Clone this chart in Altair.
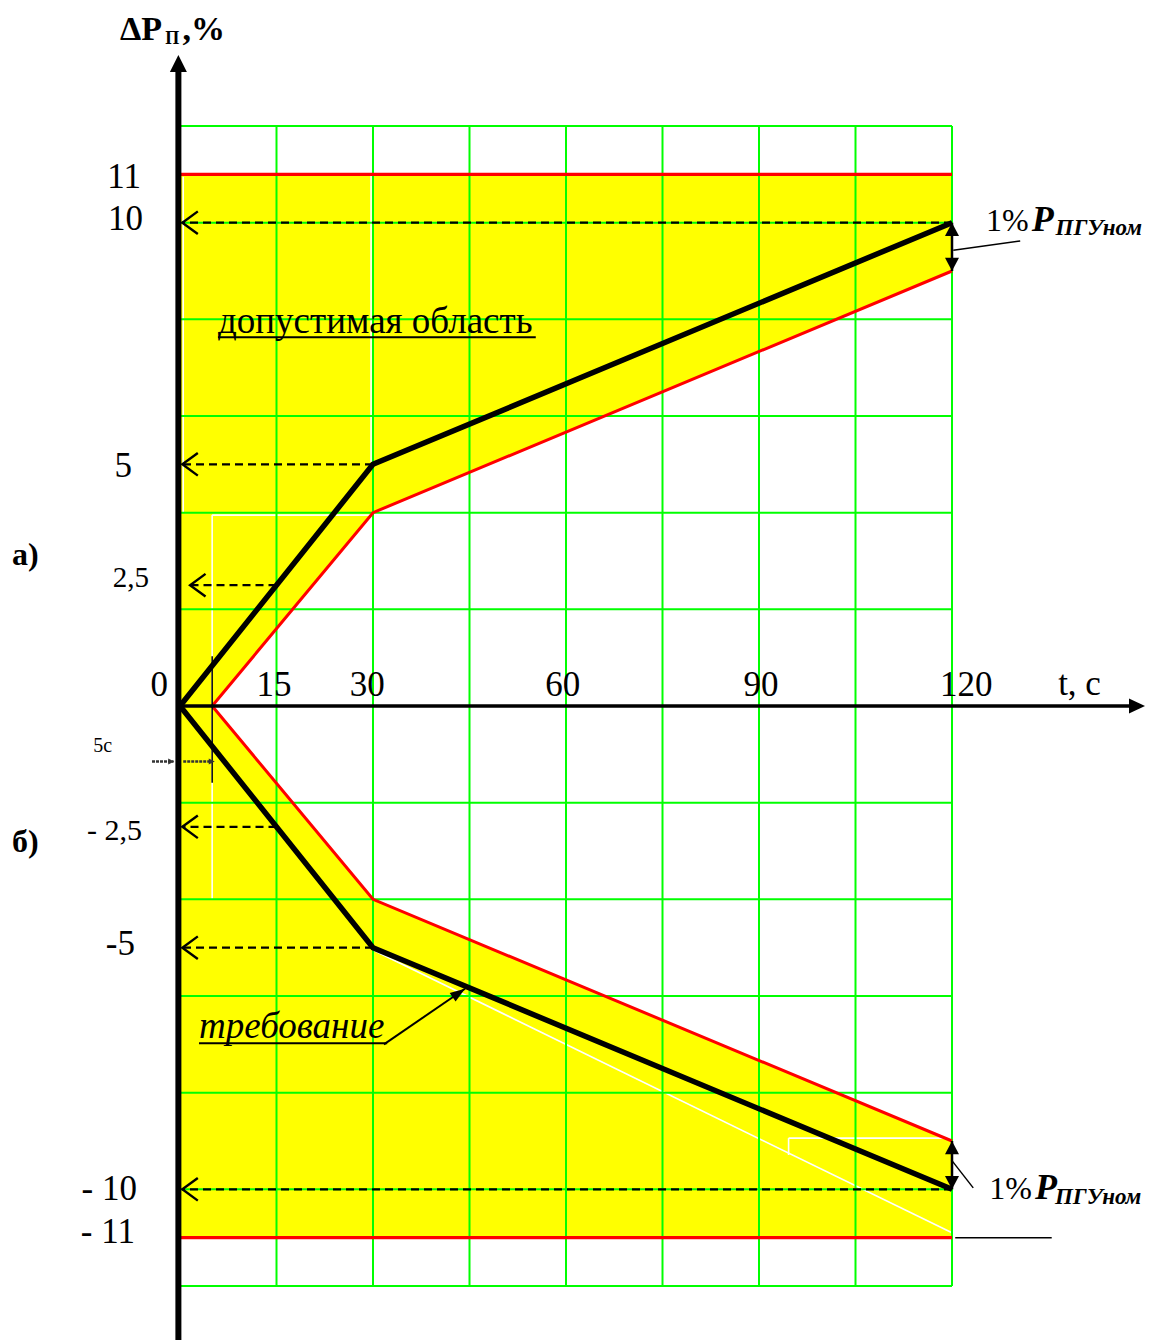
import math
import altair as alt
import pandas as pd

# ---------------- values ----------------
t_black = [0, 30, 120]
p_black_up = [0, 5, 10]
p_black_down = [0, -5, -10]
t_red = [5, 30, 120]
p_red_up = [0, 4, 9]
p_red_down = [0, -4, -9]
p_limit = [11, -11]
t_first, t_last = 0, 120
grid_t = [0, 15, 30, 45, 60, 75, 90, 105, 120]
grid_p = [-12, -10, -8, -6, -4, -2, 0, 2, 4, 6, 8, 10, 12]
dash_level = [10, 5, 2.5, -2.5, -5, -10]
dash_from = [120, 30, 15, 15, 30, 120]
dash_tip = [0.3, 0.3, 1.5, 0.3, 0.3, 0.3]
band_hi = [10, -9]
band_lo = [9, -10]
y_label_text = ["11", "10", "5", "2,5", "0", "- 2,5", "-5", "- 10", "- 11"]
y_label_t = [-6.06, -5.75, -7.46, -4.82, -1.87, -5.9, -7.0, -6.7, -7.0]
y_label_p = [10.72, 9.85, 4.74, 2.46, 0.21, -2.77, -5.15, -10.22, -11.11]
y_label_fs = [35, 35, 35, 29, 35, 30, 35, 35, 35]
x_label_text = ["15", "30", "60", "90", "120"]
x_label_t = [14.6, 29.1, 59.5, 90.3, 122.2]
x_label_p = 0.21

# ---------------- layout ----------------
PX0, PY0 = 180, 706          # page pixel of the origin
KX = 772 / 120               # px per second
KY = 1160 / 24               # px per percent
PAD_TOP = 12
W, H = 1140, 1320
XMIN = (8 - PX0) / KX
XMAX = XMIN + W / KX
YMAX = (PY0 - 8 - PAD_TOP) / KY
YMIN = YMAX - H / KY

xs = alt.Scale(domain=[XMIN, XMAX], nice=False, zero=False)
ys = alt.Scale(domain=[YMIN, YMAX], nice=False, zero=False)
FONT = "Liberation Serif"


def X(f="x"):
    return alt.X(f"{f}:Q", scale=xs, axis=None)


def Y(f="y"):
    return alt.Y(f"{f}:Q", scale=ys, axis=None)


def segs(rows, color, width, dash=None, cap="butt"):
    df = pd.DataFrame(rows, columns=["x", "y", "x2", "y2"])
    props = dict(color=color, strokeWidth=width, strokeCap=cap)
    if dash:
        props["strokeDash"] = dash
    return alt.Chart(df).mark_rule(**props).encode(
        x=X(), y=Y(), x2=alt.X2("x2:Q"), y2=alt.Y2("y2:Q"))


def poly(ts, series, color, width):
    rows = []
    for g, ps in enumerate(series):
        for i, (t, p) in enumerate(zip(ts, ps)):
            rows.append({"x": t, "y": p, "g": g, "i": i})
    return alt.Chart(pd.DataFrame(rows)).mark_line(
        color=color, strokeWidth=width, strokeJoin="miter").encode(
        x=X(), y=Y(), detail="g:N", order="i:Q")


def marker(pts, shape, size, filled, color, sw=2.0, angles=None):
    df = pd.DataFrame(pts, columns=["x", "y"])
    enc = dict(x=X(), y=Y())
    if angles is not None:
        df["a"] = angles
        enc["angle"] = alt.Angle("a:Q", scale=None)
    return alt.Chart(df).mark_point(
        shape=shape, size=size, filled=filled, color=color, opacity=1,
        strokeWidth=sw).encode(**enc)


def texts(rows, align="left", weight="normal", style="normal"):
    df = pd.DataFrame(rows, columns=["s", "x", "y", "fs"])
    return alt.Chart(df).mark_text(
        align=align, baseline="alphabetic", font=FONT, fontWeight=weight,
        fontStyle=style, color="black").encode(
        x=X(), y=Y(), text="s:N", size=alt.Size("fs:Q", scale=None))


layers = []

# yellow admissible field
layers.append(alt.Chart(pd.DataFrame([{"x": t_first, "x2": t_last,
                                        "y": p_limit[1], "y2": p_limit[0]}]))
              .mark_rect(color="#FFFF00").encode(x=X(), x2="x2:Q", y=Y(), y2="y2:Q"))
# white zone between red limits
layers.append(alt.Chart(pd.DataFrame({"x": t_red, "y": p_red_up, "y2": p_red_down}))
              .mark_area(color="white", opacity=1).encode(x=X(), y=Y(), y2="y2:Q"))
# white seams of the original drawing
layers.append(segs([(5, -4, 5, 3.95), (5, 3.95, 30, 3.95), (29.7, 5.05, 29.7, 11),
                    (0.5, 4, 0.5, 10.95),
                    (30, -5.05, 120, -10.9), (94.6, -8.94, 120, -8.94),
                    (94.6, -8.94, 94.6, -9.29)], "white", 1.6))
# green grid
layers.append(segs([(t, -12, t, 12) for t in grid_t] +
                   [(t_first, p, t_last, p) for p in grid_p], "#00FF00", 2))
# red limits
layers.append(segs([(t_first, p, t_last, p) for p in p_limit], "#FF0000", 3.2))
layers.append(poly(t_red, [p_red_up, p_red_down], "#FF0000", 3))
# black requirement lines
layers.append(poly(t_black, [p_black_up, p_black_down], "black", 5.5))

# dashed arrows to the axis
layers.append(segs([(f, lv, tp, lv) for f, lv, tp in zip(dash_from, dash_level, dash_tip)],
                   "black", 2.4, dash=[8, 5]))
layers.append(marker([(tp, lv) for tp, lv in zip(dash_tip, dash_level)],
                     "M1.9,-1.35L0.05,0L1.9,1.35", 280, False, "black", sw=2.4))

# 1% double arrows at t = 120
layers.append(segs([(t_last, lo, t_last, hi) for hi, lo in zip(band_hi, band_lo)], "black", 2.5))
layers.append(marker([(t_last, hi) for hi in band_hi], "M0,0L-1,1.9L1,1.9Z", 196, True, "black"))
layers.append(marker([(t_last, lo) for lo in band_lo], "M0,0L-1,-1.9L1,-1.9Z", 196, True, "black"))
layers.append(segs([(120.2, 9.43, 130.6, 9.62), (119.9, -9.39, 123.3, -9.97),
                    (120.5, -11, 135.5, -11)], "black", 1.5))

# 5 s marker
layers.append(segs([(5, 1.03, 5, -1.59)], "black", 1.5))
layers.append(segs([(-4.35, -1.15, -1.0, -1.15), (0.5, -1.15, 5.0, -1.15)], "#333333", 2.5,
                   dash=[3, 1]))
layers.append(marker([(-0.9, -1.15), (5.4, -1.15)], "M0,0L-2,-1L-2,1Z", 36, True, "#333333"))

# requirement label leader
lead = (31.7, -7.0, 44.3, -5.85)
ang = (360 - math.degrees(math.atan2((lead[3] - lead[1]) * KY, (lead[2] - lead[0]) * KX))) % 360
layers.append(segs([lead], "black", 2))
layers.append(marker([(lead[2], lead[3])], "M0,0L-2,-0.7L-2,0.7Z", 225, True, "black", angles=[ang]))

# underlines
layers.append(segs([(5.9, 7.63, 55.3, 7.63), (2.95, -6.98, 32.2, -6.98)], "black", 2))

# axes
layers.append(segs([(-0.25, YMIN, -0.25, 13.15)], "black", 6))
layers.append(marker([(-0.25, 13.47)], "M0,0L-1,2L1,2Z", 289, True, "black"))
layers.append(segs([(0, 0, 148, 0)], "black", 3.5))
layers.append(marker([(150, 0)], "M0,0L-2,-0.95L-2,0.95Z", 256, True, "black"))

# tick labels
layers.append(texts([(s, t, p, fs) for s, t, p, fs in
                     zip(y_label_text, y_label_t, y_label_p, y_label_fs)], align="right"))
layers.append(texts([(s, t, x_label_p, 35) for s, t in zip(x_label_text, x_label_t)],
                    align="center"))
layers.append(texts([("t, c", 136.5, 0.23, 35), ("5с", -13.5, -0.95, 20),
                     ("1%", 125.3, 9.83, 32), ("1%", 125.8, -10.2, 32),
                     ("допустимая область", 5.9, 7.72, 37)]))
layers.append(texts([("а)", -26.1, 2.92, 32), ("б)", -26.1, -3.02, 32),
                     ("ΔP", -9.33, 13.78, 34), ("П", -2.3, 13.7, 18),
                     (",%", 0.4, 13.78, 34)], weight="bold"))
layers.append(texts([("требование", 2.95, -6.87, 37)], style="italic"))
layers.append(texts([("P", 132.4, 9.83, 36), ("ПГУном", 136.1, 9.745, 23),
                     ("P", 132.9, -10.2, 36), ("ПГУном", 136.0, -10.3, 23)],
                    weight="bold", style="italic"))

chart = alt.layer(*layers).properties(
    width=W, height=H,
    padding={"top": PAD_TOP, "left": 0, "right": 0, "bottom": 0},
    autosize=alt.AutoSizeParams(type="none"),
    background="white",
).configure_view(stroke=None)

chart.save("out.html", embed_options={"renderer": "svg", "actions": False})
